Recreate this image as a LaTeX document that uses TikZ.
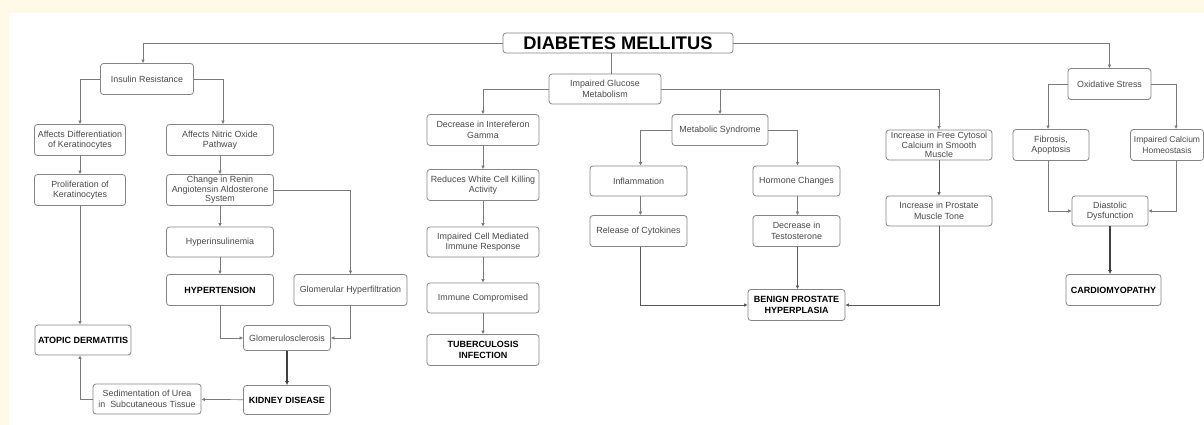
\documentclass[tikz,border=0pt]{standalone}
\usepackage{fontspec}
\setmainfont{Liberation Sans}
\usetikzlibrary{arrows.meta}
\definecolor{cream}{HTML}{FFFAE8}
\definecolor{boxline}{HTML}{858585}
\definecolor{txt}{HTML}{4A4A4A}
\definecolor{conn}{HTML}{7A7A7A}
\tikzset{
  bx/.style={draw=boxline, line width=0.8pt, rounded corners=3pt, fill=white,
    inner sep=0pt, align=center, text=txt,
    font=\fontsize{8.9}{10.4}\selectfont},
  three/.style={font=\fontsize{8.9}{9.6}\selectfont},
  bold/.style={bx, text=black, font=\fontsize{9}{10.5}\selectfont\bfseries},
  conn/.style={draw=conn, line width=0.7pt, -{Latex[length=3.5pt,width=3.5pt]}},
  plain/.style={draw=conn, line width=0.7pt},
  thick conn/.style={draw=black!75, line width=1.2pt, -{Latex[length=4pt,width=4pt]}},
}
\begin{document}
\begin{tikzpicture}[x=1pt,y=-1pt]
\useasboundingbox (0,0) rectangle (1204,425);
\fill[cream] (0,0) rectangle (1204,425);
\fill[white] (9,13) rectangle (1210,430);

% top
\node[bold, minimum width=230, minimum height=20, font=\fontsize{18.3}{20}\selectfont\bfseries] (dm) at (618,43) {DIABETES MELLITUS};

% left branch
\node[bx, minimum width=93, minimum height=31] (ir) at (147,79) {Insulin Resistance};
\node[bx, minimum width=91, minimum height=31] (adk) at (80,140) {Affects Differentiation\\of Keratinocytes};
\node[bx, minimum width=107, minimum height=31] (ano) at (220,140) {Affects Nitric Oxide\\Pathway};
\node[bx, minimum width=91, minimum height=31] (pk) at (80,190) {Proliferation of\\Keratinocytes};
\node[bx, three, minimum width=107, minimum height=31] (cr) at (220,190) {Change in Renin\\Angiotensin Aldosterone\\System};
\node[bx, minimum width=107, minimum height=30] (hi) at (220,242) {Hyperinsulinemia};
\node[bold, minimum width=107, minimum height=31] (ht) at (220,290) {HYPERTENSION};
\node[bx, minimum width=113, minimum height=31] (gh) at (350.5,290) {Glomerular Hyperfiltration};
\node[bold, minimum width=96, minimum height=30] (ad) at (83,340) {ATOPIC DERMATITIS};
\node[bx, minimum width=87, minimum height=25] (gs) at (287,338) {Glomerulosclerosis};
\node[bold, minimum width=87, minimum height=29] (kd) at (287,400) {KIDNEY DISEASE};
\node[bx, minimum width=108, minimum height=30] (su) at (147,399) {Sedimentation of Urea\\in\ \ Subcutaneous Tissue};

% middle branch
\node[bx, minimum width=112, minimum height=30] (igm) at (605,89) {Impaired Glucose\\Metabolism};
\node[bx, minimum width=112, minimum height=31] (dig) at (483,130) {Decrease in Intereferon\\Gamma};
\node[bx, minimum width=112, minimum height=31] (rwc) at (483,185) {Reduces White Cell Killing\\Activity};
\node[bx, minimum width=112, minimum height=30] (icm) at (483,242) {Impaired Cell Mediated\\Immune Response};
\node[bx, minimum width=112, minimum height=30] (ic) at (483,298) {Immune Compromised};
\node[bold, minimum width=112, minimum height=31] (tb) at (483,350) {TUBERCULOSIS\\INFECTION};
\node[bx, minimum width=96, minimum height=31] (ms) at (720,130) {Metabolic Syndrome};
\node[bx, minimum width=97, minimum height=30] (inf) at (638.5,181) {Inflammation};
\node[bx, minimum width=97, minimum height=31] (rc) at (638.5,231) {Release of Cytokines};
\node[bx, minimum width=87, minimum height=30] (hc) at (796.5,181) {Hormone Changes};
\node[bx, minimum width=87, minimum height=31] (dt) at (796.5,231) {Decrease in\\Testosterone};
\node[bold, minimum width=97, minimum height=31] (bph) at (796.5,305) {BENIGN PROSTATE\\HYPERPLASIA};
\node[bx, three, minimum width=106, minimum height=30] (ifc) at (939,145) {Increase in Free Cytosol\\Calcium in Smooth\\Muscle};
\node[bx, minimum width=106, minimum height=30] (ipm) at (939,211) {Increase in Prostate\\Muscle Tone};

% right branch
\node[bx, minimum width=83, minimum height=31] (os) at (1109.5,84) {Oxidative Stress};
\node[bx, minimum width=76, minimum height=31] (fa) at (1051,145) {Fibrosis,\\Apoptosis};
\node[bx, minimum width=73, minimum height=31, font=\fontsize{8.5}{10.4}\selectfont] (ich) at (1167,145) {Impaired Calcium\\Homeostasis};
\node[bx, minimum width=76, minimum height=30] (dd) at (1110,211) {Diastolic\\Dysfunction};
\node[bold, minimum width=95, minimum height=31] (cm) at (1113.5,290) {CARDIOMYOPATHY};

% connectors from title
\draw[conn] (dm.west) -| ([xshift=-4pt]ir.north);
\draw[conn] (dm.east) -| (os.north);
\draw[plain] ([xshift=6pt]igm.north |- dm.south) -- ([xshift=6pt]igm.north);

% left branch connectors
\draw[conn] (ir.west) -| (adk.north);
\draw[conn] (ir.east) -| ([xshift=3pt]ano.north);
\draw[conn] (adk) -- (pk);
\draw[conn] (pk.south) -- (pk.south |- ad.north);
\draw[conn] (ano) -- (cr);
\draw[conn] (cr) -- (hi);
\draw[conn] (hi) -- (ht);
\draw[conn] (cr.east) -| (gh.north);
\draw[conn] (ht.south) |- (gs.west);
\draw[conn] (gh.south) |- (gs.east);
\draw[thick conn] (gs) -- (kd);
\draw[conn] (kd) -- (su);
\draw[conn] (su.west) -| (pk.south |- ad.south);

% middle branch connectors
\draw[conn] (igm.west) -| (dig.north);
\draw[conn] (igm.east) -| (ms.north);
\draw[conn] (igm.east) -| (ifc.north);
\draw[conn] (dig) -- (rwc);
\draw[conn] (rwc) -- (icm);
\draw[conn] (icm) -- (ic);
\draw[conn] (ic) -- (tb);
\draw[conn] (ms.west) -| ([xshift=2pt]inf.north);
\draw[conn] (ms.east) -| ([xshift=1pt]hc.north);
\draw[conn] ([xshift=2pt]inf.south) -- ([xshift=2pt]rc.north);
\draw[conn, draw=black!65] ([xshift=2pt]rc.south) |- (bph.west);
\draw[conn] ([xshift=1pt]hc.south) -- ([xshift=1pt]dt.north);
\draw[conn, draw=black!65] ([xshift=1pt]dt.south) -- ([xshift=1pt]bph.north);
\draw[conn, draw=black!65] (ifc) -- (ipm);
\draw[conn, draw=black!65] (ipm.south) |- (bph.east);

% right branch connectors
\draw[conn] (os.west) -| ([xshift=-3pt]fa.north);
\draw[conn] (os.east) -| ([xshift=9pt]ich.north);
\draw[conn] ([xshift=-3pt]fa.south) |- (dd.west);
\draw[conn] ([xshift=9pt]ich.south) |- (dd.east);
\draw[thick conn] (dd.south) -- (dd.south |- cm.north);
\end{tikzpicture}
\end{document}
